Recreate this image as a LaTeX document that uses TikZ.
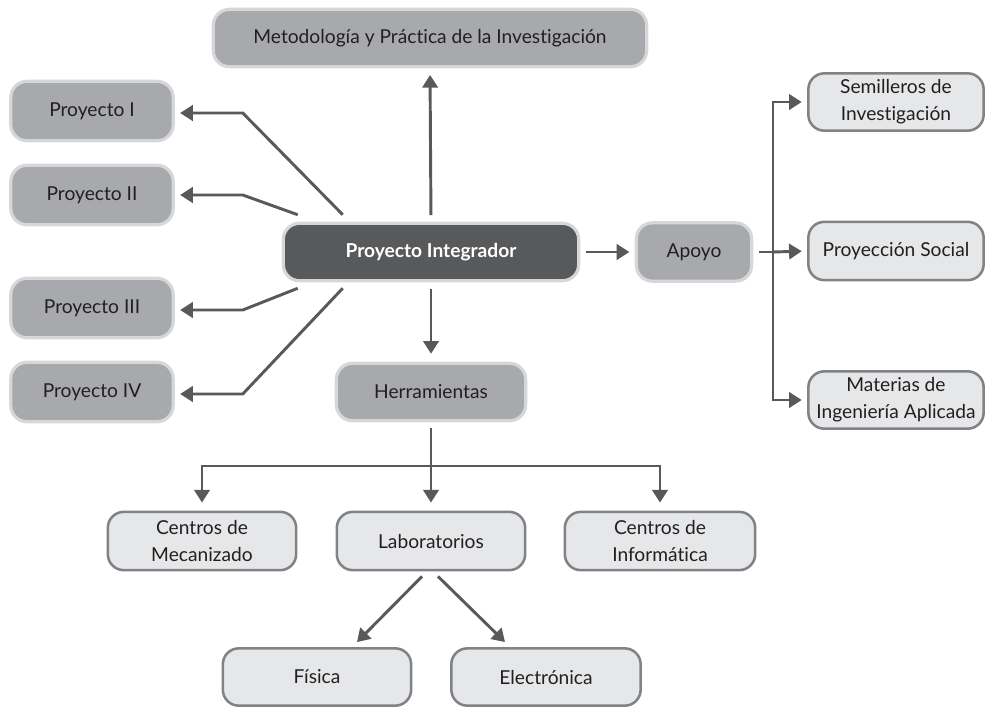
\documentclass[tikz,border=0pt]{standalone}
\usepackage{fontspec}
\setmainfont{Lato}[Ligatures=NoCommon]
\usetikzlibrary{arrows.meta,calc}
\definecolor{darkbox}{HTML}{A7A9AC}
\definecolor{darkedge}{HTML}{D6D7D8}
\definecolor{lightbox}{HTML}{E6E7E8}
\definecolor{lightedge}{HTML}{808285}
\definecolor{centerbox}{HTML}{58595B}
\definecolor{linecol}{HTML}{58595B}
\definecolor{txt}{HTML}{231F20}
\tikzset{
  base/.style={rounded corners=12pt, inner sep=0pt, align=center, text=txt,
    font=\fontsize{14.4}{20}\selectfont},
  darknode/.style={base, fill=darkbox, draw=darkedge, line width=2.4pt},
  lightnode/.style={base, fill=lightbox, draw=lightedge, line width=1.9pt},
  centernode/.style={base, fill=centerbox, draw=darkedge, line width=2.4pt, text=white,
    font=\fontsize{14.4}{20}\selectfont\bfseries},
  conn/.style={draw=linecol, line width=2.2pt, line join=miter},
  arr/.style={conn, -{Triangle[length=9.5pt,width=11.5pt]}},
  sz/.style 2 args={minimum width=#1*0.75pt-2pt, minimum height=#2*0.75pt-2pt}
}
\begin{document}
\begin{tikzpicture}[x=0.75pt,y=-0.75pt]
\useasboundingbox (0,0) rectangle (986,708);
% nodes
\node[darknode, sz={436}{60}] (met) at (430,38) {Metodología y Práctica de la Investigación};
\node[darknode, sz={165}{62}] (p1) at (92,111) {Proyecto I};
\node[darknode, sz={165}{62}] (p2) at (92,195) {Proyecto II};
\node[darknode, sz={165}{62}] (p3) at (92,308) {Proyecto III};
\node[darknode, sz={165}{62}] (p4) at (92,392) {Proyecto IV};
\node[centernode, sz={298}{60}] (pint) at (431,252) {Proyecto Integrador};
\node[darknode, sz={118}{61}] (apoyo) at (694,252) {Apoyo};
\node[lightnode, sz={178}{60}] (semi) at (896,102) {Semilleros de\\Investigación};
\node[lightnode, sz={178}{61}] (psoc) at (896,251) {Proyección Social};
\node[lightnode, sz={178}{60}] (mat) at (896,400) {Materias de\\Ingeniería Aplicada};
\node[darknode, sz={192}{60}] (herr) at (431,392) {Herramientas};
\node[lightnode, sz={191}{61}] (mec) at (202,541) {Centros de\\Mecanizado};
\node[lightnode, sz={191}{61}] (lab) at (431,541) {Laboratorios};
\node[lightnode, sz={193}{61}] (inf) at (660,541) {Centros de\\Informática};
\node[lightnode, sz={191}{60}] (fis) at (317,677) {Física};
\node[lightnode, sz={192}{60}] (elec) at (546,677) {Electrónica};
% coordinates
\coordinate (bar) at (773,252);
\coordinate (hb) at (431,466);
% connectors
\draw[arr, shorten <=5pt, shorten >=5pt] (pint.north) -- (met.south);
\draw[arr, shorten <=4pt, shorten >=4pt] (pint.east) -- (apoyo.west);
\draw[arr, shorten <=5pt, shorten >=6pt] (pint.south) -- (herr.north);
\draw[arr, shorten >=4pt] ($(pint.north west)+(61,-7)$) -- ($(p1.east)+(68,2)$) -- ($(p1.east)+(0,2)$);
\draw[arr, shorten >=4pt] ($(pint.north west)+(16,-7)$) -- ($(p2.east)+(68,0)$) -- (p2.east);
\draw[arr, shorten >=4pt] ($(pint.south west)+(16,6)$) -- ($(p3.east)+(68,2)$) -- ($(p3.east)+(0,2)$);
\draw[arr, shorten >=4pt] ($(pint.south west)+(61,6)$) -- ($(p4.east)+(68,2)$) -- ($(p4.east)+(0,2)$);
% apoyo branches
\draw[conn, shorten <=4pt] (apoyo.east) -- (bar);
\draw[arr, shorten >=4pt] (bar) -- (psoc.west);
\draw[arr, shorten >=4pt] (bar) |- (semi.west);
\draw[arr, shorten >=4pt] (bar) |- (mat.west);
% herramientas branches
\draw[conn, shorten <=4pt] (herr.south) -- (hb);
\draw[arr, shorten >=6pt] (hb) -| (mec.north);
\draw[arr, shorten >=6pt] (hb) -- (lab.north);
\draw[arr, shorten >=6pt] (hb) -| (inf.north);
% laboratorios branches
\draw[arr] ($(lab.south)+(-9,5)$) -- ($(fis.north)+(40,-5)$);
\draw[arr] ($(lab.south)+(7,5)$) -- ($(elec.north)+(-41,-5)$);
\end{tikzpicture}
\end{document}
